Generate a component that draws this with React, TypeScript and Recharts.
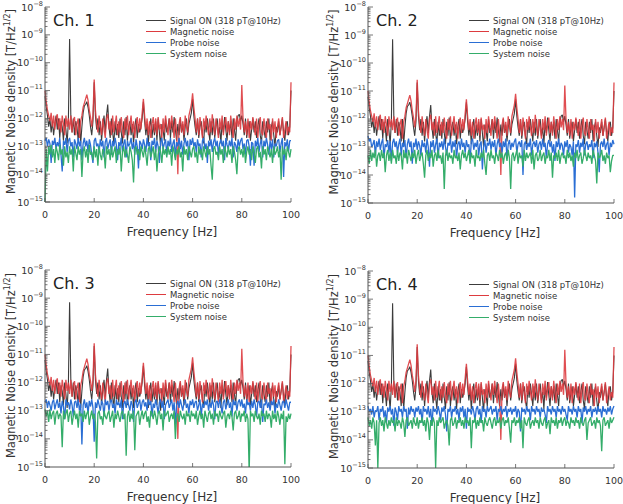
import { Legend, Line, LineChart, XAxis, YAxis } from "recharts";

// All series are log10 of the noise density in T/Hz^1/2, read every 0.5 Hz.
// Signal ON and magnetic noise look the same in every channel.
const STEP = 0.5;

const signalOn = [
  -11.2, -11.6, -11.9, -12.3, -12.0, -12.5, -12.1, -12.6, -12.2, -11.9,
  -12.4, -12.0, -12.7, -12.1, -12.3, -12.8, -12.0, -12.4, -12.9, -12.1,
  -9.15, -11.9, -12.5, -12.0, -12.6, -12.1, -12.3, -12.8, -12.0, -12.9,
  -12.3, -11.8, -11.55, -11.5, -11.4, -11.6, -11.9, -12.3, -12.6, -12.1,
  -10.7, -11.9, -12.4, -12.0, -12.6, -12.1, -12.8, -12.2, -11.9, -12.5,
  -11.9, -11.5, -12.3, -12.7, -12.0, -12.5, -12.9, -12.1, -12.6, -12.2,
  -12.7, -12.0, -12.5, -12.9, -12.1, -12.6, -11.95, -12.8, -12.3, -12.1,
  -12.6, -12.2, -12.9, -12.3, -12.0, -12.7, -12.2, -12.5, -12.3, -12.0,
  -11.4, -12.1, -12.6, -12.2, -12.9, -12.3, -12.0, -12.7, -12.2, -12.6,
  -12.1, -12.8, -12.0, -12.5, -13.0, -12.2, -12.4, -12.8, -12.0, -12.5,
  -12.3, -12.0, -12.7, -12.1, -12.5, -11.95, -12.4, -12.8, -12.2, -12.6,
  -12.0, -12.5, -12.2, -12.8, -12.3, -12.0, -12.6, -12.2, -12.0, -11.8,
  -11.3, -11.9, -12.3, -12.6, -12.0, -12.7, -12.3, -12.1, -12.6, -12.9,
  -12.1, -12.5, -12.0, -12.4, -12.8, -12.1, -12.6, -12.0, -12.7, -12.3,
  -12.0, -12.6, -12.3, -12.9, -12.1, -12.5, -11.95, -12.4, -12.8, -12.1,
  -12.5, -12.1, -12.7, -12.0, -12.4, -12.8, -12.1, -11.9, -11.85, -12.1,
  -11.9, -12.2, -12.6, -12.0, -12.7, -12.3, -12.1, -12.8, -12.4, -12.0,
  -12.5, -12.1, -12.7, -12.3, -12.0, -12.6, -12.9, -12.1, -12.4, -12.7,
  -12.1, -12.5, -12.0, -12.8, -12.3, -12.1, -12.6, -13.0, -12.3, -12.5,
  -12.1, -12.6, -12.3, -12.0, -12.5, -12.8, -12.2, -12.1, -12.6, -12.3,
  -11.0,
];

const magneticNoise = [
  -11.0, -11.4, -11.7, -11.9, -12.1, -11.8, -12.3, -11.9, -12.4, -12.0,
  -11.85, -12.4, -12.0, -12.5, -11.9, -12.2, -12.6, -11.9, -12.3, -12.0,
  -12.4, -11.9, -12.5, -12.1, -11.95, -12.6, -12.2, -12.0, -12.7, -12.1,
  -11.9, -11.6, -11.45, -11.3, -11.15, -11.35, -11.7, -11.95, -12.3, -11.9,
  -10.6, -11.7, -12.2, -12.5, -11.9, -12.3, -12.6, -12.0, -12.4, -12.7,
  -12.0, -11.85, -12.4, -12.1, -12.6, -11.9, -12.5, -12.2, -11.9, -12.6,
  -12.1, -12.5, -11.95, -12.4, -12.7, -12.0, -12.4, -11.9, -12.6, -12.2,
  -11.9, -12.5, -12.1, -12.7, -12.2, -11.95, -12.5, -12.0, -12.4, -11.8,
  -11.3, -11.9, -12.4, -12.0, -12.6, -12.1, -12.7, -12.2, -11.95, -12.5,
  -12.0, -12.6, -11.95, -12.4, -12.2, -12.7, -12.0, -12.5, -11.9, -12.3,
  -12.6, -12.0, -12.4, -11.9, -12.3, -12.7, -12.0, -12.5, -14.0, -12.2,
  -11.95, -12.5, -12.1, -12.6, -11.9, -12.3, -12.5, -11.9, -11.7, -11.5,
  -11.1, -11.6, -12.0, -12.5, -12.0, -12.6, -11.95, -12.3, -12.7, -12.0,
  -12.4, -11.9, -12.3, -12.6, -12.0, -12.5, -11.85, -12.3, -12.6, -12.0,
  -12.3, -12.7, -12.0, -12.4, -11.9, -12.6, -12.2, -11.95, -12.5, -12.1,
  -12.6, -11.9, -12.3, -12.7, -12.0, -12.4, -11.9, -12.3, -12.0, -12.4,
  -10.8, -12.0, -12.5, -12.1, -12.6, -12.0, -12.7, -12.1, -12.4, -11.95,
  -12.3, -12.6, -12.0, -12.7, -12.2, -11.95, -12.5, -12.6, -12.0, -12.4,
  -12.7, -12.0, -12.4, -12.2, -12.8, -12.0, -12.5, -12.1, -12.7, -12.3,
  -12.0, -12.6, -12.3, -11.95, -12.7, -12.4, -12.1, -12.6, -12.3, -12.5,
  -10.7,
];

const probeCh1 = [
  -12.8, -12.7, -13.0, -12.75, -12.9, -13.6, -12.8, -12.95, -12.7, -13.1,
  -12.85, -13.0, -12.7, -13.3, -13.9, -12.8, -12.95, -12.7, -13.2, -12.8,
  -12.7, -13.0, -12.85, -13.4, -12.75, -12.9, -13.1, -12.7, -13.0, -12.8,
  -13.5, -12.9, -12.7, -13.0, -12.8, -13.2, -12.75, -12.95, -13.3, -13.6,
  -12.8, -12.7, -13.0, -12.9, -13.2, -12.75, -13.0, -12.8, -13.4, -12.85,
  -12.7, -13.1, -12.9, -12.75, -13.3, -12.8, -13.0, -12.7, -12.95, -13.5,
  -12.85, -13.0, -12.7, -13.2, -12.9, -12.75, -13.4, -12.8, -13.0, -12.9,
  -12.7, -13.1, -12.85, -13.3, -12.75, -13.0, -13.8, -12.8, -12.9, -13.1,
  -12.75, -12.95, -13.2, -12.7, -13.0, -12.85, -13.5, -12.8, -12.95, -12.7,
  -13.2, -12.8, -13.0, -13.6, -12.85, -12.7, -13.1, -12.9, -12.75, -13.3,
  -12.8, -13.0, -12.7, -13.2, -12.9, -12.75, -13.4, -12.85, -13.0, -12.7,
  -13.1, -12.8, -13.3, -12.9, -12.7, -13.0, -12.8, -13.5, -12.75, -12.95,
  -12.7, -13.0, -12.85, -13.2, -12.75, -13.0, -12.9, -13.4, -12.8, -12.7,
  -13.1, -12.9, -13.6, -12.8, -13.0, -12.75, -13.2, -12.85, -12.7, -13.0,
  -12.8, -13.3, -12.9, -12.75, -13.0, -12.8, -13.5, -12.7, -12.95, -13.1,
  -12.8, -13.0, -12.7, -13.4, -12.85, -12.95, -13.2, -12.75, -13.0, -12.8,
  -12.7, -13.1, -12.9, -13.3, -12.8, -12.75, -13.0, -13.7, -12.85, -12.9,
  -13.7, -12.8, -13.0, -12.7, -13.2, -12.9, -12.75, -13.4, -12.8, -13.0,
  -12.7, -12.95, -13.3, -12.8, -13.1, -12.75, -13.4, -12.9, -13.0, -12.8,
  -12.75, -13.2, -12.9, -12.7, -14.1, -12.85, -13.0, -12.75, -13.2, -12.8,
  -12.8,
];
const systemCh1 = [
  -15.0, -13.1, -13.9, -13.0, -13.3, -12.95, -13.4, -13.1, -13.6, -13.0,
  -13.2, -13.5, -12.95, -13.3, -13.1, -13.7, -13.0, -13.4, -13.2, -13.6,
  -13.0, -13.3, -13.1, -13.9, -13.0, -13.25, -13.5, -13.0, -13.3, -13.1,
  -14.1, -13.2, -13.0, -13.4, -13.1, -13.6, -12.95, -13.3, -13.2, -13.5,
  -13.0, -13.4, -13.1, -13.7, -13.0, -13.3, -13.5, -13.1, -13.2, -13.8,
  -13.0, -13.3, -13.1, -13.5, -13.0, -13.4, -13.2, -13.0, -13.6, -13.1,
  -13.3, -13.0, -13.9, -13.2, -13.0, -13.4, -13.1, -13.3, -13.6, -13.0,
  -13.2, -13.5, -14.3, -13.1, -13.0, -13.3, -13.1, -13.5, -13.0, -13.2,
  -13.4, -13.0, -13.3, -13.7, -13.1, -13.0, -13.4, -13.2, -13.0, -13.5,
  -13.1, -13.9, -13.3, -13.0, -13.2, -13.6, -13.0, -13.3, -13.1, -13.4,
  -13.0, -13.3, -13.1, -13.7, -13.0, -13.2, -13.5, -13.1, -13.3, -13.0,
  -13.4, -13.2, -13.9, -13.0, -13.3, -13.1, -13.5, -13.0, -13.2, -13.4,
  -13.1, -13.0, -13.4, -13.2, -13.6, -13.0, -13.3, -13.1, -13.5, -13.0,
  -13.2, -13.4, -13.0, -13.3, -13.1, -13.7, -14.2, -13.1, -13.0, -13.3,
  -13.2, -13.5, -13.0, -13.3, -13.1, -13.6, -13.0, -13.2, -13.4, -13.0,
  -13.3, -13.1, -13.6, -13.0, -13.2, -13.5, -14.0, -13.1, -13.0, -13.3,
  -13.1, -13.4, -13.0, -13.6, -13.2, -13.0, -13.3, -13.1, -13.5, -13.0,
  -13.2, -13.6, -13.1, -13.0, -13.4, -13.2, -13.8, -13.0, -13.3, -13.1,
  -13.5, -13.0, -13.2, -13.4, -13.1, -13.6, -13.0, -13.3, -13.2, -13.0,
  -13.4, -13.1, -14.2, -13.0, -13.3, -13.1, -13.5, -13.0, -13.2, -13.4,
  -13.1,
];

const probeCh2 = [
  -12.6, -12.8, -12.7, -13.0, -12.9, -12.75, -13.3, -12.8, -13.0, -12.7,
  -13.1, -12.85, -12.7, -13.4, -12.9, -13.0, -12.75, -13.2, -12.8, -13.5,
  -12.85, -12.7, -13.0, -12.8, -13.2, -12.9, -12.7, -13.3, -12.85, -13.0,
  -12.75, -13.4, -12.9, -12.7, -13.0, -12.8, -13.6, -12.85, -13.0, -12.7,
  -13.1, -12.8, -12.95, -13.3, -12.75, -13.0, -12.85, -13.2, -12.7, -13.0,
  -13.7, -12.8, -13.0, -12.75, -13.2, -12.9, -12.7, -13.4, -12.85, -13.0,
  -12.8, -13.1, -12.7, -13.0, -13.3, -12.85, -12.95, -12.7, -13.2, -12.8,
  -13.0, -12.75, -13.4, -12.9, -12.8, -13.1, -12.7, -13.0, -12.85, -13.2,
  -12.75, -13.0, -12.9, -13.5, -12.8, -12.7, -13.1, -12.85, -13.0, -12.75,
  -13.3, -12.9, -12.8, -13.8, -13.0, -12.75, -13.2, -12.85, -12.95, -12.7,
  -13.1, -12.8, -13.0, -12.75, -13.3, -12.9, -12.7, -13.0, -12.85, -13.2,
  -12.8, -13.0, -12.7, -13.4, -12.9, -12.75, -13.1, -12.85, -13.0, -12.8,
  -12.7, -13.2, -12.9, -12.8, -13.0, -12.75, -14.0, -12.9, -12.8, -13.1,
  -12.85, -13.0, -12.7, -13.3, -12.9, -12.8, -13.0, -12.75, -13.2, -12.9,
  -12.8, -13.1, -12.7, -13.0, -12.85, -13.4, -12.9, -12.75, -13.0, -12.8,
  -13.2, -12.9, -13.5, -12.8, -13.0, -12.7, -13.1, -12.85, -12.95, -13.3,
  -12.8, -13.0, -12.75, -13.2, -12.9, -13.0, -13.3, -12.8, -14.8, -12.9,
  -13.0, -12.75, -13.2, -12.85, -13.0, -12.7, -13.3, -12.9, -12.8, -13.1,
  -12.9, -13.0, -12.75, -13.4, -12.85, -13.0, -12.8, -13.2, -13.9, -12.9,
  -12.8, -13.0, -12.7, -13.1, -12.9, -12.8, -13.3, -12.85, -13.0, -12.75,
  -12.9,
];
const systemCh2 = [
  -13.3, -13.6, -13.1, -13.5, -13.2, -13.4, -13.1, -13.7, -13.3, -13.2,
  -13.5, -13.1, -13.4, -13.2, -13.9, -13.3, -13.1, -13.5, -13.2, -13.6,
  -13.1, -13.4, -13.3, -13.6, -13.1, -13.5, -13.2, -13.3, -13.8, -13.1,
  -13.4, -13.2, -13.6, -13.1, -13.3, -13.5, -13.2, -13.4, -13.1, -13.6,
  -13.3, -13.1, -13.5, -13.3, -13.2, -13.6, -14.1, -13.3, -13.1, -13.5,
  -13.2, -13.4, -13.1, -13.7, -13.3, -13.2, -13.5, -13.1, -13.4, -13.3,
  -13.6, -13.2, -14.5, -13.3, -13.1, -13.5, -13.2, -13.4, -13.3, -13.6,
  -13.1, -13.4, -13.3, -13.5, -13.2, -13.8, -13.3, -13.1, -13.4, -13.2,
  -13.5, -13.3, -13.1, -13.6, -13.2, -13.4, -13.3, -13.7, -13.1, -13.4,
  -13.3, -13.5, -13.2, -13.4, -13.1, -13.6, -14.0, -13.3, -13.2, -13.5,
  -13.1, -13.4, -13.3, -13.6, -13.2, -13.3, -13.5, -13.1, -13.4, -13.2,
  -13.6, -13.3, -13.2, -13.5, -13.1, -13.4, -14.5, -13.3, -13.2, -13.5,
  -13.3, -13.1, -13.6, -13.2, -13.4, -13.3, -13.7, -13.1, -13.5, -13.2,
  -13.4, -13.3, -13.2, -13.6, -13.1, -13.8, -13.3, -13.2, -13.5, -13.4,
  -13.1, -13.5, -13.3, -13.2, -13.6, -13.3, -13.4, -13.1, -13.5, -13.2,
  -14.1, -13.3, -13.4, -13.2, -13.5, -13.1, -13.6, -13.3, -13.2, -13.4,
  -13.3, -13.6, -13.1, -13.4, -13.2, -13.5, -13.3, -13.7, -13.2, -13.4,
  -13.1, -13.5, -13.3, -13.2, -13.6, -13.4, -13.1, -13.3, -13.5, -13.2,
  -13.4, -13.3, -13.6, -13.1, -13.3, -13.5, -14.3, -13.2, -13.4, -13.3,
  -13.1, -13.5, -13.3, -13.6, -13.2, -13.4, -13.3, -13.9, -13.5, -13.3,
  -13.3,
];

const probeCh3 = [
  -12.7, -12.6, -12.9, -12.65, -12.8, -13.0, -12.7, -12.6, -12.95, -12.75,
  -12.6, -12.9, -12.7, -13.1, -12.65, -12.85, -13.3, -12.6, -12.8, -12.7,
  -12.95, -12.6, -12.8, -13.2, -12.7, -12.65, -12.9, -12.6, -13.0, -12.75,
  -14.2, -12.8, -12.6, -12.9, -12.7, -13.1, -12.65, -12.85, -12.6, -12.9,
  -14.1, -12.7, -12.9, -12.6, -12.8, -13.0, -12.65, -12.75, -13.2, -12.6,
  -12.8, -12.65, -13.0, -12.7, -12.6, -12.9, -12.75, -13.1, -12.6, -12.8,
  -12.7, -12.9, -12.6, -13.3, -12.75, -12.65, -12.9, -12.6, -12.8, -13.0,
  -12.65, -12.8, -13.4, -12.7, -12.6, -12.9, -12.75, -12.6, -13.0, -12.7,
  -12.6, -12.85, -12.7, -13.0, -12.6, -12.8, -12.65, -13.2, -12.75, -12.9,
  -12.6, -12.8, -13.1, -12.7, -12.6, -12.9, -12.65, -13.3, -12.8, -12.7,
  -12.6, -12.9, -12.75, -12.6, -13.0, -12.7, -13.5, -12.8, -12.65, -12.9,
  -12.6, -12.8, -13.0, -12.7, -12.6, -12.9, -12.75, -13.1, -12.65, -12.8,
  -12.6, -12.9, -12.7, -12.65, -13.0, -12.8, -12.6, -13.2, -12.75, -12.9,
  -12.65, -12.8, -12.6, -13.0, -12.7, -12.9, -12.6, -12.8, -13.3, -12.7,
  -12.65, -12.9, -12.6, -12.8, -13.1, -12.7, -12.6, -12.95, -12.75, -12.6,
  -12.9, -12.7, -13.2, -12.6, -12.8, -12.65, -13.0, -12.7, -12.6, -12.85,
  -12.6, -12.9, -12.75, -13.1, -12.6, -12.8, -12.7, -13.0, -12.65, -12.9,
  -12.6, -12.8, -13.2, -12.7, -12.65, -12.9, -12.6, -13.4, -12.75, -12.8,
  -12.6, -12.9, -12.7, -13.0, -12.65, -12.8, -12.6, -13.1, -12.75, -12.9,
  -12.6, -12.8, -13.0, -12.7, -12.65, -12.9, -12.6, -12.8, -13.0, -12.7,
  -12.7,
];
const systemCh3 = [
  -12.95, -13.2, -13.0, -13.4, -12.95, -13.3, -13.1, -13.0, -13.5, -13.1,
  -13.0, -13.3, -13.1, -13.2, -14.3, -13.0, -13.3, -13.1, -12.95, -13.4,
  -13.1, -13.0, -13.5, -13.2, -13.0, -13.3, -13.1, -13.6, -13.0, -13.2,
  -13.1, -13.4, -13.0, -13.3, -13.1, -13.0, -13.5, -13.2, -13.0, -13.3,
  -13.1, -13.4, -14.7, -13.1, -13.0, -13.3, -13.2, -13.5, -13.0, -13.2,
  -13.3, -13.1, -13.0, -13.4, -13.2, -13.0, -13.6, -13.1, -13.3, -13.0,
  -13.2, -13.4, -13.1, -13.0, -13.3, -13.1, -14.6, -13.2, -13.0, -13.4,
  -13.1, -13.3, -13.0, -14.4, -13.2, -13.1, -13.0, -13.5, -13.2, -13.0,
  -13.3, -13.1, -13.0, -13.4, -13.2, -13.6, -13.0, -13.1, -13.3, -13.0,
  -13.2, -13.5, -13.1, -13.0, -13.3, -13.1, -13.7, -13.0, -13.2, -13.1,
  -13.0, -13.4, -13.2, -13.1, -13.3, -13.0, -14.0, -13.2, -13.1, -13.4,
  -13.0, -13.2, -13.3, -13.1, -13.5, -13.0, -13.2, -13.1, -13.4, -13.0,
  -13.2, -13.1, -13.3, -13.0, -13.5, -13.2, -13.0, -13.3, -13.1, -13.6,
  -13.0, -13.2, -13.4, -13.1, -13.0, -13.3, -13.1, -13.5, -13.0, -13.2,
  -13.1, -13.4, -13.0, -13.2, -13.3, -13.1, -13.0, -13.6, -13.2, -13.1,
  -13.3, -13.0, -13.2, -13.7, -13.1, -13.0, -13.3, -13.2, -13.0, -13.4,
  -13.1, -13.2, -13.0, -13.4, -13.1, -13.3, -15.2, -13.0, -13.2, -13.1,
  -13.4, -13.0, -13.2, -13.3, -13.1, -13.5, -13.0, -13.2, -13.1, -13.4,
  -13.0, -13.3, -13.1, -13.2, -13.6, -13.0, -13.3, -13.1, -13.4, -13.0,
  -13.2, -13.5, -13.1, -13.3, -13.0, -14.9, -13.2, -13.4, -13.1, -13.3,
  -13.1,
];

const probeCh4 = [
  -12.8, -13.0, -12.9, -13.1, -12.8, -13.2, -12.95, -13.0, -12.8, -13.3,
  -12.9, -13.0, -12.8, -13.2, -12.95, -13.4, -12.85, -13.0, -12.8, -13.1,
  -12.9, -13.5, -12.85, -13.0, -13.3, -12.8, -13.0, -12.9, -13.2, -12.8,
  -13.0, -12.9, -13.6, -12.85, -13.1, -12.8, -13.0, -12.9, -13.2, -12.85,
  -13.0, -12.8, -13.1, -12.9, -13.4, -12.8, -13.0, -12.9, -13.1, -12.8,
  -13.2, -12.9, -13.5, -12.8, -13.0, -12.9, -13.1, -12.8, -13.0, -13.3,
  -12.85, -13.0, -12.8, -13.1, -13.7, -12.9, -13.0, -12.8, -13.2, -12.9,
  -13.0, -12.8, -13.1, -12.9, -13.3, -12.85, -13.0, -12.8, -13.2, -12.9,
  -13.6, -12.85, -13.0, -12.9, -13.1, -12.8, -13.0, -13.3, -12.9, -12.8,
  -13.1, -12.9, -13.4, -12.8, -13.0, -12.9, -13.2, -12.8, -13.0, -12.9,
  -12.8, -13.1, -12.9, -13.0, -12.8, -13.3, -12.9, -13.0, -12.8, -13.1,
  -12.9, -13.0, -12.8, -13.2, -12.9, -13.0, -12.85, -13.1, -12.9, -13.0,
  -12.8, -13.2, -12.9, -13.0, -13.7, -12.85, -13.0, -12.9, -13.1, -12.8,
  -13.0, -12.9, -13.3, -12.8, -13.0, -12.9, -13.1, -12.8, -13.0, -12.9,
  -13.2, -12.85, -13.0, -12.9, -13.1, -13.4, -12.8, -13.0, -12.9, -13.1,
  -12.8, -13.0, -12.9, -13.2, -12.8, -13.0, -12.9, -13.1, -12.8, -13.0,
  -12.9, -13.1, -13.3, -12.8, -13.0, -12.9, -13.1, -12.8, -13.0, -12.9,
  -13.2, -12.8, -13.0, -12.9, -13.4, -12.85, -13.0, -12.8, -13.1, -12.9,
  -13.0, -12.8, -13.2, -12.9, -13.0, -12.85, -13.1, -12.8, -13.0, -12.9,
  -13.2, -12.8, -13.0, -12.9, -13.1, -12.85, -13.0, -12.8, -13.1, -12.9,
  -12.8,
];
const systemCh4 = [
  -13.2, -13.5, -13.3, -13.6, -13.2, -13.4, -14.2, -13.3, -15.0, -13.4,
  -13.2, -13.5, -13.3, -13.7, -13.2, -13.4, -13.6, -13.3, -13.5, -13.2,
  -13.4, -13.3, -13.7, -13.2, -13.5, -13.3, -13.4, -13.6, -13.2, -13.4,
  -13.9, -13.3, -13.2, -13.5, -13.4, -13.3, -13.6, -13.2, -13.4, -13.5,
  -13.2, -13.6, -13.3, -13.4, -13.2, -13.5, -13.3, -13.7, -13.2, -13.4,
  -14.0, -13.3, -13.5, -13.2, -13.4, -15.0, -13.3, -13.5, -13.2, -13.4,
  -13.3, -13.2, -13.6, -13.4, -13.3, -13.5, -14.2, -13.3, -13.2, -13.5,
  -13.4, -13.2, -13.6, -13.3, -13.4, -13.2, -13.5, -13.3, -13.6, -13.2,
  -13.4, -13.3, -13.5, -13.2, -14.3, -13.3, -13.4, -13.2, -13.6, -13.3,
  -13.5, -13.2, -13.4, -13.3, -13.7, -13.2, -13.4, -13.5, -13.3, -13.2,
  -13.4, -13.6, -13.3, -13.2, -13.5, -13.3, -13.4, -13.2, -13.6, -13.3,
  -13.2, -13.5, -13.3, -13.4, -13.2, -13.6, -14.1, -13.3, -13.4, -13.2,
  -13.5, -13.3, -13.4, -13.2, -13.6, -13.3, -14.3, -13.2, -13.4, -13.5,
  -13.3, -13.2, -13.6, -13.4, -13.3, -13.5, -13.2, -13.4, -13.3, -13.6,
  -13.2, -13.4, -13.5, -13.3, -13.2, -13.6, -13.4, -13.3, -13.8, -13.2,
  -13.4, -13.3, -13.5, -13.2, -13.6, -13.3, -13.4, -13.2, -13.5, -13.3,
  -13.2, -13.5, -13.3, -13.4, -13.6, -13.2, -13.4, -13.3, -13.5, -13.2,
  -13.4, -13.3, -13.6, -13.2, -13.4, -13.5, -13.3, -13.2, -14.0, -13.4,
  -13.3, -13.2, -13.5, -13.4, -13.3, -13.6, -13.2, -13.4, -13.3, -13.5,
  -14.4, -13.3, -13.2, -13.5, -13.4, -13.3, -13.6, -13.2, -13.4, -13.3,
  -13.2,
];

const FREQ_TICKS = [0, 20, 40, 60, 80, 100];
const DECADES = [-15, -14, -13, -12, -11, -10, -9, -8];
const SERIES_NAMES = ["Signal ON (318 pT@10Hz)", "Magnetic noise", "Probe noise", "System noise"];

const AXIS = "#555";
const COLORS = ["#3c3c3c", "#dd3b3f", "#2a6ed4", "#34ad6a"];
const WIDTHS = [1.1, 1.3, 1.3, 1.3];
const FONT = "'DejaVu Sans', sans-serif";

// decade ticks with minor 2..9 ticks between them
const LOG_TICKS: number[] = [];
DECADES.forEach((d, i) => {
  if (i === DECADES.length - 1) {
    LOG_TICKS.push(10 ** d);
    return;
  }
  for (let m = 1; m <= 9; m++) LOG_TICKS.push(m * 10 ** d);
});

const toPoints = (vals: number[]) => vals.map((v, i) => ({ f: i * STEP, v: 10 ** v }));

const signalData = toPoints(signalOn);
const magneticData = toPoints(magneticNoise);

const CHART_W = 310;
const CHART_H = 252;
const X_AXIS_H = 32;

function logParts(v: number) {
  const exp = Math.floor(Math.log10(v) + 1e-6);
  const mant = Math.round(v / 10 ** exp);
  return { exp, mant };
}

function LeftLogTick({ x, y, payload }: any) {
  const { exp, mant } = logParts(payload.value);
  const major = mant === 1;
  return (
    <g>
      <line x1={x} x2={x + (major ? 5 : 2.5)} y1={y} y2={y} stroke={AXIS} strokeWidth={0.8} />
      {major && (
        <text x={x - 2} y={y} dy={3.5} textAnchor="end" fontSize={9.5} fill="#333" fontFamily={FONT}>
          10
          <tspan fontSize={6.5} dy={-5}>{`\u2212${-exp}`}</tspan>
        </text>
      )}
    </g>
  );
}

function RightLogTick({ x, y, payload }: any) {
  const { mant } = logParts(payload.value);
  const len = mant === 1 ? 5 : 2.5;
  return <line x1={x} x2={x - len} y1={y} y2={y} stroke={AXIS} strokeWidth={0.8} />;
}

function BottomFreqTick({ x, y, payload }: any) {
  return (
    <g>
      <line x1={x} x2={x} y1={y} y2={y - 4} stroke={AXIS} strokeWidth={0.8} />
      <text x={x} y={y + 16} textAnchor="middle" fontSize={9.5} fill="#333" fontFamily={FONT}>
        {payload.value}
      </text>
    </g>
  );
}

function TopFreqTick({ x, y }: any) {
  return <line x1={x} x2={x} y1={y} y2={y + 4} stroke={AXIS} strokeWidth={0.8} />;
}

function YTitle({ viewBox }: any) {
  const cy = viewBox.y + viewBox.height / 2 - 3;
  return (
    <text
      transform={`translate(11, ${cy}) rotate(-90)`}
      textAnchor="middle"
      dominantBaseline="central"
      fontSize={11.5}
      fill="#333"
      fontFamily={FONT}
    >
      Magnetic Noise density [T/Hz
      <tspan fontSize={8} dy={-4}>1/2</tspan>
      <tspan dy={4}>]</tspan>
    </text>
  );
}

function XTitle({ viewBox }: any) {
  return (
    <text
      x={viewBox.x + viewBox.width / 2 + 4}
      y={viewBox.y + 34}
      textAnchor="middle"
      fontSize={12}
      fill="#333"
      fontFamily={FONT}
    >
      Frequency [Hz]
    </text>
  );
}

function LegendBox({ payload }: any) {
  const items = [...(payload || [])].sort(
    (a: any, b: any) => SERIES_NAMES.indexOf(a.value) - SERIES_NAMES.indexOf(b.value)
  );
  return (
    <div style={{ fontSize: 8.5, color: "#333", fontFamily: FONT }}>
      {items.map((p: any) => (
        <div key={p.value} style={{ display: "flex", alignItems: "center", height: 11 }}>
          <span
            style={{
              width: 20,
              height: 1.4,
              background: COLORS[SERIES_NAMES.indexOf(p.value)] ?? p.color,
              marginRight: 4,
            }}
          />
          <span style={{ whiteSpace: "nowrap" }}>{p.value}</span>
        </div>
      ))}
    </div>
  );
}

type PanelProps = {
  title: string;
  left: number;
  top: number;
  plotTop: number;
  plotBottom: number;
  probe: number[];
  system: number[];
};

function Panel({ title, left, top, plotTop, plotBottom, probe, system }: PanelProps) {
  const series = [signalData, magneticData, toPoints(probe), toPoints(system)];
  const margin = { top: plotTop, right: 19, left: 0, bottom: CHART_H - plotBottom - X_AXIS_H };
  return (
    <div style={{ position: "absolute", left, top, width: CHART_W, height: CHART_H }}>
      <LineChart width={CHART_W} height={CHART_H} margin={margin}>
        <XAxis
          dataKey="f"
          type="number"
          domain={[0, 100]}
          ticks={FREQ_TICKS}
          interval={0}
          height={X_AXIS_H}
          tickSize={0}
          tickMargin={0}
          tick={<BottomFreqTick />}
          axisLine={{ stroke: AXIS }}
          label={<XTitle />}
        />
        <XAxis
          xAxisId="top"
          orientation="top"
          dataKey="f"
          type="number"
          domain={[0, 100]}
          ticks={FREQ_TICKS}
          interval={0}
          height={0}
          tickSize={0}
          tickMargin={0}
          tick={<TopFreqTick />}
          axisLine={{ stroke: AXIS }}
        />
        <YAxis
          scale="log"
          type="number"
          domain={[1e-15, 1e-8]}
          allowDataOverflow
          ticks={LOG_TICKS}
          interval={0}
          width={45}
          tickSize={0}
          tickMargin={0}
          tick={<LeftLogTick />}
          axisLine={{ stroke: AXIS }}
          label={<YTitle />}
        />
        <YAxis
          yAxisId="right"
          orientation="right"
          scale="log"
          type="number"
          domain={[1e-15, 1e-8]}
          allowDataOverflow
          ticks={LOG_TICKS}
          interval={0}
          width={0}
          tickSize={0}
          tickMargin={0}
          tick={<RightLogTick />}
          axisLine={{ stroke: AXIS }}
        />
        <Legend
          layout="horizontal"
          verticalAlign="middle"
          align="center"
          wrapperStyle={{ left: 146, top: plotTop + 8, width: 160 }}
          content={<LegendBox />}
        />
        {series.map((data, i) => (
          <Line
            key={SERIES_NAMES[i]}
            data={data}
            dataKey="v"
            name={SERIES_NAMES[i]}
            stroke={COLORS[i]}
            strokeOpacity={i === 1 ? 0.9 : 1}
            strokeWidth={WIDTHS[i]}
            strokeLinejoin="bevel"
            dot={false}
            isAnimationActive={false}
          />
        ))}
      </LineChart>
      <div
        style={{
          position: "absolute",
          left: 53,
          top: plotTop + 5.5,
          fontSize: 16,
          lineHeight: "16px",
          color: "#222",
          fontFamily: FONT,
        }}
      >
        {title}
      </div>
    </div>
  );
}

export default function App() {
  return (
    <div
      style={{
        position: "absolute",
        left: 0,
        top: 0,
        width: 623,
        height: 504,
        background: "#fff",
        fontFamily: FONT,
      }}
    >
      <Panel title="Ch. 1" left={0} top={0} plotTop={7} plotBottom={202} probe={probeCh1} system={systemCh1} />
      <Panel title="Ch. 2" left={323} top={0} plotTop={7} plotBottom={203} probe={probeCh2} system={systemCh2} />
      <Panel title="Ch. 3" left={0} top={262} plotTop={8} plotBottom={205} probe={probeCh3} system={systemCh3} />
      <Panel title="Ch. 4" left={323} top={262} plotTop={9} plotBottom={206} probe={probeCh4} system={systemCh4} />
    </div>
  );
}
